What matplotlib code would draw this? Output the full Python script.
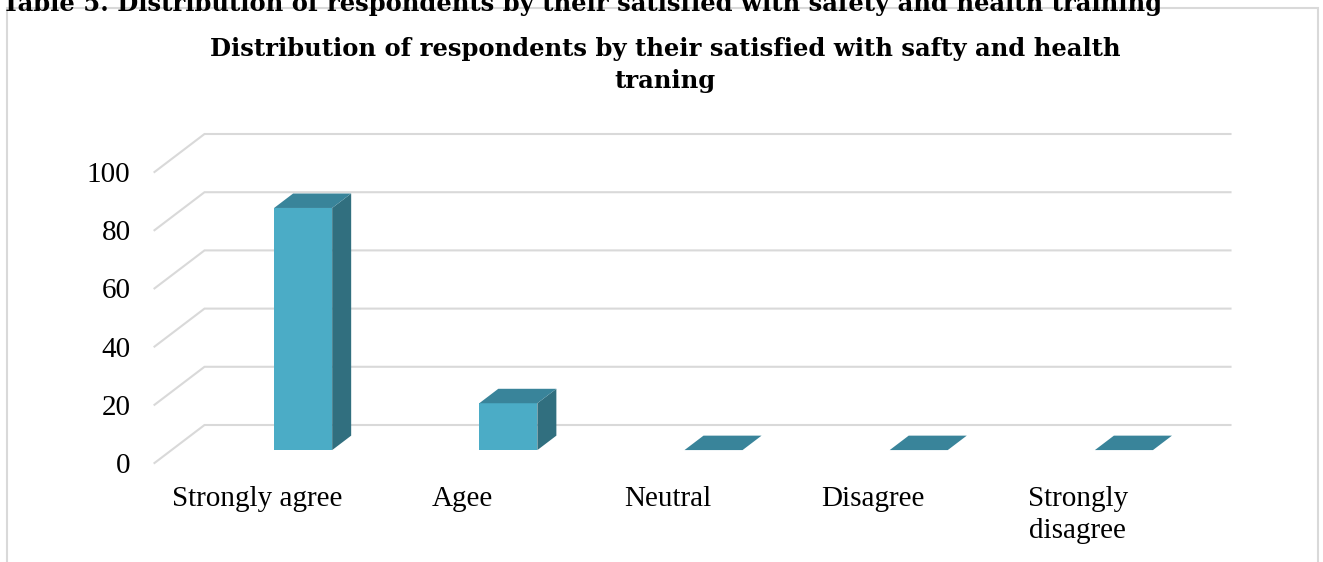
import matplotlib.pyplot as plt
from matplotlib.patches import Polygon, Rectangle

categories = ["Strongly agree", "Agee", "Neutral", "Disagree", "Strongly\ndisagree"]
percent = [83.2, 16.1, 0, 0, 0]
yticks = [0, 20, 40, 60, 80, 100]

W, H = 1323, 562
fig = plt.figure(figsize=(W / 100, H / 100), dpi=100)
ax = fig.add_axes([0, 0, 1, 1])

# back wall scale: one category = 205.2 px, one percent = 2.91 px
cat_px, unit_px = 205.2, 2.91
x0_px, y0_px = 204.5, 425
ax.set_xlim(-x0_px / cat_px, (W - x0_px) / cat_px)
ax.set_ylim(-(H - y0_px) / unit_px, y0_px / unit_px)
ax.axis("off")

# oblique offset from the back wall to the front edge of the floor
DX = -50 / cat_px
DY = -38 / unit_px

grid_c = "#d9d9d9"
front_c, side_c, top_c = "#4bacc6", "#316f7f", "#39849a"
serif = ["Liberation Serif", "DejaVu Serif"]

# gridlines on the back wall plus the slanted part on the side wall
for v in yticks:
    ax.plot([DX, 0, len(categories)], [v + DY, v, v], color=grid_c, lw=1.5,
            solid_joinstyle="miter", zorder=1)
    ax.text(DX - 24 / cat_px, v + DY, str(v), ha="right", va="center_baseline",
            fontsize=21, family=serif)

# 3D-looking bars: front, right side and top faces
df, db = 0.66, 0.28
for i, v in enumerate(percent):
    xl, xr = i + 0.50, i + 0.783
    fx, bx = df * DX, db * DX
    fy, by = df * DY, db * DY
    top = [(xl + fx, v + fy), (xr + fx, v + fy), (xr + bx, v + by), (xl + bx, v + by)]
    if v > 0:
        front = [(xl + fx, fy), (xr + fx, fy), (xr + fx, v + fy), (xl + fx, v + fy)]
        side = [(xr + fx, fy), (xr + bx, by), (xr + bx, v + by), (xr + fx, v + fy)]
        ax.add_patch(Polygon(front, closed=True, fc=front_c, ec="none", zorder=3))
        ax.add_patch(Polygon(side, closed=True, fc=side_c, ec="none", zorder=3))
    ax.add_patch(Polygon(top, closed=True, fc=top_c, ec="none", zorder=3))

# category labels along the front edge of the floor
for i, lab in enumerate(categories):
    ax.text(i + 0.5 + DX, (y0_px - 486) / unit_px, lab, ha="center", va="top",
            fontsize=21, family=serif, linespacing=1.3)

# chart area border
fig.patches.append(Rectangle((7 / W, -0.02), 1311 / W, (H - 8) / H + 0.02,
                             transform=fig.transFigure, fill=False,
                             ec=grid_c, lw=1.5))

fig.text(665 / W, 1 - 65 / H,
         "Distribution of respondents by their satisfied with safty and health\ntraning",
         ha="center", va="center", fontsize=17.5, fontweight="bold",
         family="DejaVu Serif", linespacing=1.4)

fig.text(2 / W, 1 - 11 / H,
         "Table 5. Distribution of respondents by their satisfied with safety and health training",
         ha="left", va="baseline", fontsize=17.5, fontweight="bold",
         family="DejaVu Serif")

fig.savefig("out.png", dpi=100)
